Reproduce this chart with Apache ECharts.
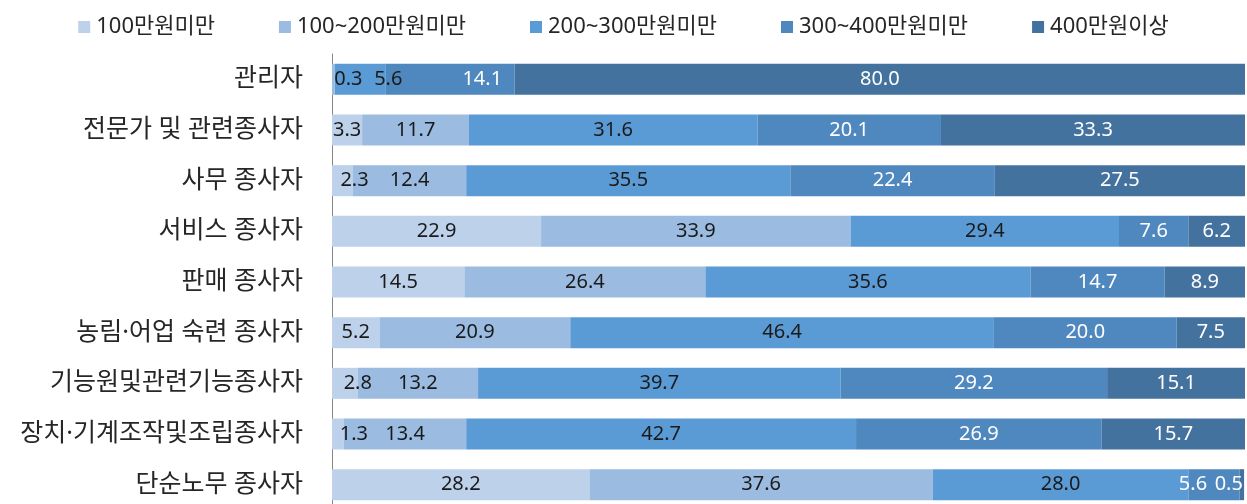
<!DOCTYPE html>
<html>
<head>
<meta charset="utf-8">
<script src="https://cdn.jsdelivr.net/npm/echarts@6/dist/echarts.min.js"></script>
<style>
  html, body { margin: 0; padding: 0; background: #fff; }
  #main { width: 1247px; height: 504px; }
</style>
</head>
<body>
<div id="main"></div>
<script>
// 직업별 월평균 임금 구간 비율 (%)
const occupations = ['관리자', '전문가 및 관련종사자', '사무 종사자', '서비스 종사자', '판매 종사자',
  '농림·어업 숙련 종사자', '기능원및관련기능종사자', '장치·기계조작및조립종사자', '단순노무 종사자'];
const groups = ['100만원미만', '100~200만원미만', '200~300만원미만', '300~400만원미만', '400만원이상'];

const under100 = [null, 3.3, 2.3, 22.9, 14.5, 5.2, 2.8, 1.3, 28.2];
const from100to200 = [0.3, 11.7, 12.4, 33.9, 26.4, 20.9, 13.2, 13.4, 37.6];
const from200to300 = [5.6, 31.6, 35.5, 29.4, 35.6, 46.4, 39.7, 42.7, 28.0];
const from300to400 = [14.1, 20.1, 22.4, 7.6, 14.7, 20.0, 29.2, 26.9, 5.6];
const over400 = [80.0, 33.3, 27.5, 6.2, 8.9, 7.5, 15.1, 15.7, 0.5];

const seriesValues = [under100, from100to200, from200to300, from300to400, over400];
const colors = ['#bdd1eb', '#9bbbe1', '#5b9bd5', '#4e88bf', '#44729f'];
const labelColors = ['#1a1a1a', '#1a1a1a', '#1a1a1a', '#ffffff', '#ffffff'];
const font = "'Noto Sans', 'Noto Sans CJK KR', sans-serif";

// 원본에서 손으로 옮겨 놓은 작은 라벨들 (row,series -> x 이동)
const nudge = {
  '0,1': 15, '0,2': 28, '0,3': 32,
  '2,0': 12, '6,0': 13, '7,0': 16,
  '8,3': -21, '8,4': -13
};

const chart = echarts.init(document.getElementById('main'));

const series = seriesValues.map(function (vals, s) {
  return {
    name: groups[s],
    type: 'bar',
    stack: 'total',
    barWidth: 31,
    itemStyle: { color: colors[s] },
    label: {
      show: true,
      position: 'inside',
      color: labelColors[s],
      fontSize: 20,
      fontFamily: font,
      formatter: function (p) { return p.value == null ? '' : p.value.toFixed(1); }
    },
    labelLayout: function (p) {
      const dx = nudge[p.dataIndex + ',' + s] || 0;
      return { dx: dx, hideOverlap: false };
    },
    data: vals
  };
});

const option = {
  animation: false,
  textStyle: { fontFamily: font },
  legend: {
    data: groups,
    top: 11,
    left: 'center',
    itemWidth: 12,
    itemHeight: 12,
    itemGap: 64,
    icon: 'rect',
    textStyle: { fontSize: 22, color: '#262626', fontFamily: font, padding: [0, 0, 0, 1] }
  },
  grid: {
    left: 332,
    right: 2,
    top: 54,
    height: 456,
    outerBoundsMode: 'none'
  },
  xAxis: {
    type: 'value',
    min: 0,
    max: 100,
    show: false
  },
  yAxis: {
    type: 'category',
    inverse: true,
    data: occupations,
    axisTick: { show: false },
    axisLine: { show: true, lineStyle: { color: '#868686', width: 1 } },
    axisLabel: { fontSize: 25, color: '#262626', margin: 29, fontFamily: font }
  },
  series: series
};

chart.setOption(option);
</script>
</body>
</html>
